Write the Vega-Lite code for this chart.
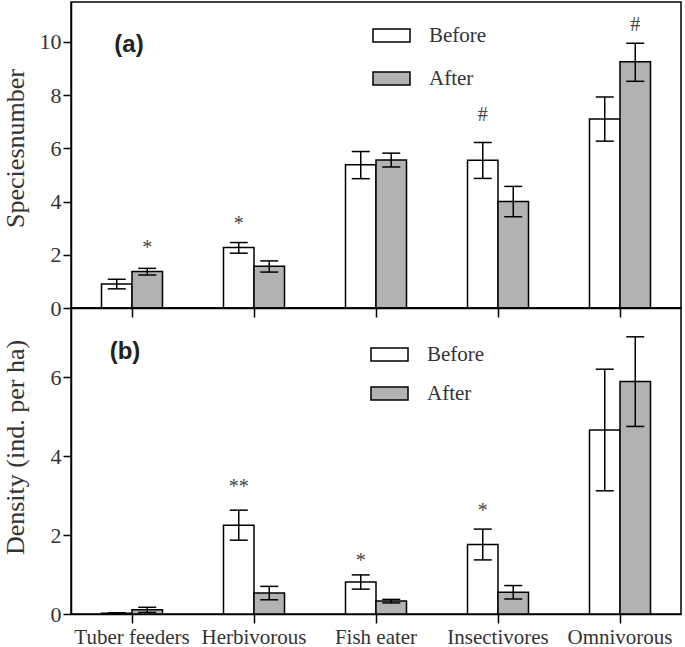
{
  "$schema": "https://vega.github.io/schema/vega-lite/v6.json",
  "padding": {"left": 1, "top": 1, "right": 5, "bottom": 0},
  "bounds": "flush",
  "spacing": 0,
  "background": "white",
  "datasets": {
    "bars": [
      {"panel": "a", "group": "Tuber feeders", "period": "Before", "mean": 0.9, "lo": 0.72, "hi": 1.08},
      {"panel": "a", "group": "Tuber feeders", "period": "After", "mean": 1.37, "lo": 1.24, "hi": 1.49},
      {"panel": "a", "group": "Herbivorous", "period": "Before", "mean": 2.27, "lo": 2.06, "hi": 2.46},
      {"panel": "a", "group": "Herbivorous", "period": "After", "mean": 1.57, "lo": 1.35, "hi": 1.77},
      {"panel": "a", "group": "Fish eater", "period": "Before", "mean": 5.38, "lo": 4.86, "hi": 5.88},
      {"panel": "a", "group": "Fish eater", "period": "After", "mean": 5.56, "lo": 5.3, "hi": 5.82},
      {"panel": "a", "group": "Insectivores", "period": "Before", "mean": 5.55, "lo": 4.87, "hi": 6.22},
      {"panel": "a", "group": "Insectivores", "period": "After", "mean": 4.0, "lo": 3.43, "hi": 4.57},
      {"panel": "a", "group": "Omnivorous", "period": "Before", "mean": 7.1, "lo": 6.27, "hi": 7.93},
      {"panel": "a", "group": "Omnivorous", "period": "After", "mean": 9.25, "lo": 8.52, "hi": 9.95},
      {"panel": "b", "group": "Tuber feeders", "period": "Before", "mean": 0.02, "lo": 0.01, "hi": 0.03},
      {"panel": "b", "group": "Tuber feeders", "period": "After", "mean": 0.11, "lo": 0.04, "hi": 0.17},
      {"panel": "b", "group": "Herbivorous", "period": "Before", "mean": 2.25, "lo": 1.87, "hi": 2.63},
      {"panel": "b", "group": "Herbivorous", "period": "After", "mean": 0.53, "lo": 0.36, "hi": 0.7},
      {"panel": "b", "group": "Fish eater", "period": "Before", "mean": 0.81, "lo": 0.63, "hi": 0.99},
      {"panel": "b", "group": "Fish eater", "period": "After", "mean": 0.33, "lo": 0.28, "hi": 0.37},
      {"panel": "b", "group": "Insectivores", "period": "Before", "mean": 1.76, "lo": 1.37, "hi": 2.15},
      {"panel": "b", "group": "Insectivores", "period": "After", "mean": 0.55, "lo": 0.38, "hi": 0.72},
      {"panel": "b", "group": "Omnivorous", "period": "Before", "mean": 4.66, "lo": 3.12, "hi": 6.2},
      {"panel": "b", "group": "Omnivorous", "period": "After", "mean": 5.89, "lo": 4.75, "hi": 7.02}
    ],
    "marks": [
      {"panel": "a", "group": "Tuber feeders", "period": "After", "sig": "*", "y": 2.27},
      {"panel": "a", "group": "Herbivorous", "period": "Before", "sig": "*", "y": 3.14},
      {"panel": "a", "group": "Insectivores", "period": "Before", "sig": "#", "y": 7.26},
      {"panel": "a", "group": "Omnivorous", "period": "After", "sig": "#", "y": 10.64},
      {"panel": "b", "group": "Herbivorous", "period": "Before", "sig": "**", "y": 3.22},
      {"panel": "b", "group": "Fish eater", "period": "Before", "sig": "*", "y": 1.33},
      {"panel": "b", "group": "Insectivores", "period": "Before", "sig": "*", "y": 2.61}
    ],
    "labels": [
      {"panel": "a", "group": "Tuber feeders", "label": "(a)", "y": 9.9},
      {"panel": "b", "group": "Tuber feeders", "label": "(b)", "y": 6.64}
    ]
  },
  "config": {
    "view": {"stroke": "black", "strokeWidth": 1.5},
    "axis": {
      "grid": false,
      "domainColor": "black",
      "domainWidth": 1.5,
      "tickColor": "black",
      "tickWidth": 1.5,
      "tickSize": 8,
      "labelFont": "Liberation Serif",
      "labelColor": "#333333",
      "titleFont": "Liberation Serif",
      "titleColor": "#333333",
      "titleFontWeight": "normal"
    },
    "legend": {
      "orient": "none",
      "title": null,
      "padding": 0,
      "symbolType": "M-1,-0.35H1V0.35H-1Z",
      "symbolSize": 1369,
      "symbolStrokeColor": "black",
      "symbolStrokeWidth": 1.5,
      "symbolOpacity": 1,
      "labelFont": "Liberation Serif",
      "labelFontSize": 21,
      "labelColor": "#333333",
      "labelOffset": 18
    }
  },
  "resolve": {
    "scale": {"y": "independent", "fill": "independent"},
    "legend": {"fill": "independent"}
  },
  "vconcat": [
    {
      "width": 610,
      "height": 306,
      "layer": [
        {
          "data": {"name": "bars"},
          "transform": [{"filter": "datum.panel == 'a'"}],
          "mark": {"type": "bar", "stroke": "black", "strokeWidth": 1.5},
          "encoding": {
            "x": {"field": "group", "type": "nominal", "sort": ["Tuber feeders", "Herbivorous", "Fish eater", "Insectivores", "Omnivorous"], "scale": {"paddingInner": 0.5, "paddingOuter": 0.25}, "axis": {"labels": false, "title": null, "tickSize": 9}},
            "xOffset": {"field": "period", "type": "nominal", "sort": ["Before", "After"], "scale": {"paddingInner": 0, "paddingOuter": 0}},
            "y": {"field": "mean", "type": "quantitative", "scale": {"domain": [0, 11.5], "nice": false}, "axis": {"values": [0, 2, 4, 6, 8, 10], "title": "Speciesnumber", "labelFont": "Liberation Serif", "labelFontSize": 22, "labelPadding": 2, "titleFontSize": 26, "titleBaseline": "alphabetic", "titleX": -48, "titleY": 146}},
            "fill": {"field": "period", "type": "nominal", "scale": {"domain": ["Before", "After"], "range": ["white", "#b2b2b2"]}, "legend": {"legendX": 301, "legendY": 14, "rowPadding": 13}}
          }
        },
        {
          "data": {"name": "bars"},
          "transform": [{"filter": "datum.panel == 'a'"}],
          "mark": {"type": "rule", "color": "black", "strokeWidth": 1.5},
          "encoding": {
            "x": {"field": "group", "type": "nominal", "sort": ["Tuber feeders", "Herbivorous", "Fish eater", "Insectivores", "Omnivorous"]},
            "xOffset": {"field": "period", "type": "nominal", "sort": ["Before", "After"]},
            "y": {"field": "lo", "type": "quantitative"},
            "y2": {"field": "hi"}
          }
        },
        {
          "data": {"name": "bars"},
          "transform": [{"filter": "datum.panel == 'a'"}],
          "mark": {"type": "tick", "color": "black", "thickness": 1.5, "size": 18, "opacity": 1},
          "encoding": {
            "x": {"field": "group", "type": "nominal", "sort": ["Tuber feeders", "Herbivorous", "Fish eater", "Insectivores", "Omnivorous"]},
            "xOffset": {"field": "period", "type": "nominal", "sort": ["Before", "After"]},
            "y": {"field": "lo", "type": "quantitative"}
          }
        },
        {
          "data": {"name": "bars"},
          "transform": [{"filter": "datum.panel == 'a'"}],
          "mark": {"type": "tick", "color": "black", "thickness": 1.5, "size": 18, "opacity": 1},
          "encoding": {
            "x": {"field": "group", "type": "nominal", "sort": ["Tuber feeders", "Herbivorous", "Fish eater", "Insectivores", "Omnivorous"]},
            "xOffset": {"field": "period", "type": "nominal", "sort": ["Before", "After"]},
            "y": {"field": "hi", "type": "quantitative"}
          }
        },
        {
          "data": {"name": "marks"},
          "transform": [{"filter": "datum.panel == 'a'"}],
          "mark": {"type": "text", "font": "Liberation Serif", "fontSize": 20, "color": "#444444", "baseline": "middle"},
          "encoding": {
            "x": {"field": "group", "type": "nominal", "sort": ["Tuber feeders", "Herbivorous", "Fish eater", "Insectivores", "Omnivorous"]},
            "xOffset": {"field": "period", "type": "nominal", "sort": ["Before", "After"]},
            "y": {"field": "y", "type": "quantitative"},
            "text": {"field": "sig"}
          }
        },
        {
          "data": {"name": "labels"},
          "transform": [{"filter": "datum.panel == 'a'"}],
          "mark": {"type": "text", "font": "Liberation Sans", "fontWeight": "bold", "fontSize": 24, "color": "#222222", "baseline": "middle", "dx": -3},
          "encoding": {
            "x": {"field": "group", "type": "nominal", "sort": ["Tuber feeders", "Herbivorous", "Fish eater", "Insectivores", "Omnivorous"]},
            "y": {"field": "y", "type": "quantitative"},
            "text": {"field": "label"}
          }
        }
      ]
    },
    {
      "width": 610,
      "height": 306,
      "layer": [
        {
          "data": {"name": "bars"},
          "transform": [{"filter": "datum.panel == 'b'"}],
          "mark": {"type": "bar", "stroke": "black", "strokeWidth": 1.5},
          "encoding": {
            "x": {"field": "group", "type": "nominal", "sort": ["Tuber feeders", "Herbivorous", "Fish eater", "Insectivores", "Omnivorous"], "scale": {"paddingInner": 0.5, "paddingOuter": 0.25}, "axis": {"title": null, "labelAngle": 0, "labelFont": "Liberation Serif", "labelFontSize": 21, "labelPadding": 3, "tickSize": 9}},
            "xOffset": {"field": "period", "type": "nominal", "sort": ["Before", "After"], "scale": {"paddingInner": 0, "paddingOuter": 0}},
            "y": {"field": "mean", "type": "quantitative", "scale": {"domain": [0, 7.75], "nice": false}, "axis": {"values": [0, 2, 4, 6], "title": "Density (ind. per ha)", "labelFont": "Liberation Serif", "labelFontSize": 22, "labelPadding": 2, "titleFontSize": 26, "titleBaseline": "alphabetic", "titleX": -48, "titleY": 139}},
            "fill": {"field": "period", "type": "nominal", "scale": {"domain": ["Before", "After"], "range": ["white", "#b2b2b2"]}, "legend": {"legendX": 299, "legendY": 27, "rowPadding": 9}}
          }
        },
        {
          "data": {"name": "bars"},
          "transform": [{"filter": "datum.panel == 'b'"}],
          "mark": {"type": "rule", "color": "black", "strokeWidth": 1.5},
          "encoding": {
            "x": {"field": "group", "type": "nominal", "sort": ["Tuber feeders", "Herbivorous", "Fish eater", "Insectivores", "Omnivorous"]},
            "xOffset": {"field": "period", "type": "nominal", "sort": ["Before", "After"]},
            "y": {"field": "lo", "type": "quantitative"},
            "y2": {"field": "hi"}
          }
        },
        {
          "data": {"name": "bars"},
          "transform": [{"filter": "datum.panel == 'b'"}],
          "mark": {"type": "tick", "color": "black", "thickness": 1.5, "size": 18, "opacity": 1},
          "encoding": {
            "x": {"field": "group", "type": "nominal", "sort": ["Tuber feeders", "Herbivorous", "Fish eater", "Insectivores", "Omnivorous"]},
            "xOffset": {"field": "period", "type": "nominal", "sort": ["Before", "After"]},
            "y": {"field": "lo", "type": "quantitative"}
          }
        },
        {
          "data": {"name": "bars"},
          "transform": [{"filter": "datum.panel == 'b'"}],
          "mark": {"type": "tick", "color": "black", "thickness": 1.5, "size": 18, "opacity": 1},
          "encoding": {
            "x": {"field": "group", "type": "nominal", "sort": ["Tuber feeders", "Herbivorous", "Fish eater", "Insectivores", "Omnivorous"]},
            "xOffset": {"field": "period", "type": "nominal", "sort": ["Before", "After"]},
            "y": {"field": "hi", "type": "quantitative"}
          }
        },
        {
          "data": {"name": "marks"},
          "transform": [{"filter": "datum.panel == 'b'"}],
          "mark": {"type": "text", "font": "Liberation Serif", "fontSize": 20, "color": "#444444", "baseline": "middle"},
          "encoding": {
            "x": {"field": "group", "type": "nominal", "sort": ["Tuber feeders", "Herbivorous", "Fish eater", "Insectivores", "Omnivorous"]},
            "xOffset": {"field": "period", "type": "nominal", "sort": ["Before", "After"]},
            "y": {"field": "y", "type": "quantitative"},
            "text": {"field": "sig"}
          }
        },
        {
          "data": {"name": "labels"},
          "transform": [{"filter": "datum.panel == 'b'"}],
          "mark": {"type": "text", "font": "Liberation Sans", "fontWeight": "bold", "fontSize": 24, "color": "#222222", "baseline": "middle", "dx": -7},
          "encoding": {
            "x": {"field": "group", "type": "nominal", "sort": ["Tuber feeders", "Herbivorous", "Fish eater", "Insectivores", "Omnivorous"]},
            "y": {"field": "y", "type": "quantitative"},
            "text": {"field": "label"}
          }
        }
      ]
    }
  ]
}
